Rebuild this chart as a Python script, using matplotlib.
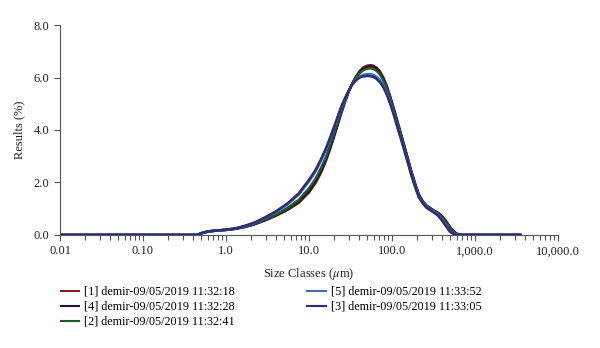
import matplotlib.pyplot as plt
from matplotlib.ticker import LogLocator, FixedLocator, NullFormatter

# size classes (um) and volume density (%)
sizes = [0.01, 0.45, 0.5, 0.6, 0.8, 1.0, 1.3, 1.7, 2.2, 3.0, 4.0, 5.5, 7.5, 10,
         12, 14, 16, 18, 21, 24, 27, 30, 33, 37, 41, 45, 50, 55, 60, 65, 71, 78,
         86, 95, 105, 115, 127, 140, 155, 170, 190, 210, 235, 260, 290, 320, 360,
         400, 450, 500, 550, 600, 700, 3500]

run1 = [0, 0, 0.06, 0.13, 0.17, 0.19, 0.23, 0.30, 0.40, 0.56, 0.73, 0.95, 1.22, 1.62,
        1.98, 2.38, 2.82, 3.28, 3.95, 4.55, 5.05, 5.45, 5.75, 6.05, 6.25, 6.38, 6.45,
        6.47, 6.45, 6.38, 6.25, 6.02, 5.70, 5.28, 4.82, 4.38, 3.90, 3.42, 2.92, 2.45,
        1.95, 1.55, 1.28, 1.12, 1.02, 0.93, 0.84, 0.72, 0.52, 0.30, 0.15, 0.05, 0, 0]
run4 = [0, 0, 0.06, 0.13, 0.17, 0.19, 0.23, 0.31, 0.41, 0.58, 0.75, 0.98, 1.26, 1.67,
        2.03, 2.44, 2.87, 3.33, 3.99, 4.58, 5.07, 5.46, 5.75, 6.03, 6.22, 6.35, 6.41,
        6.43, 6.41, 6.34, 6.21, 5.98, 5.67, 5.25, 4.80, 4.36, 3.88, 3.40, 2.90, 2.44,
        1.94, 1.54, 1.27, 1.11, 1.01, 0.92, 0.83, 0.70, 0.50, 0.28, 0.14, 0.04, 0, 0]
run2 = [0, 0, 0.06, 0.13, 0.17, 0.19, 0.24, 0.32, 0.42, 0.60, 0.78, 1.03, 1.33, 1.78,
        2.14, 2.56, 2.97, 3.43, 4.08, 4.64, 5.10, 5.47, 5.74, 6.00, 6.17, 6.28, 6.34,
        6.35, 6.33, 6.26, 6.13, 5.91, 5.60, 5.19, 4.75, 4.31, 3.84, 3.36, 2.87, 2.41,
        1.92, 1.52, 1.26, 1.10, 1.00, 0.91, 0.81, 0.67, 0.46, 0.25, 0.11, 0.03, 0, 0]
run5 = [0, 0, 0.06, 0.13, 0.17, 0.20, 0.25, 0.34, 0.46, 0.66, 0.88, 1.16, 1.53, 2.04,
        2.42, 2.84, 3.25, 3.67, 4.26, 4.79, 5.18, 5.49, 5.72, 5.92, 6.04, 6.10, 6.13,
        6.13, 6.10, 6.03, 5.91, 5.72, 5.43, 5.05, 4.62, 4.18, 3.73, 3.27, 2.78, 2.32,
        1.85, 1.46, 1.21, 1.05, 0.95, 0.86, 0.75, 0.58, 0.35, 0.14, 0.05, 0.01, 0, 0]
run3 = [0, 0, 0.06, 0.13, 0.17, 0.20, 0.25, 0.35, 0.47, 0.68, 0.90, 1.20, 1.58, 2.10,
        2.48, 2.90, 3.30, 3.72, 4.30, 4.82, 5.20, 5.50, 5.72, 5.90, 6.00, 6.04, 6.06,
        6.05, 6.02, 5.95, 5.83, 5.65, 5.37, 5.00, 4.58, 4.15, 3.70, 3.24, 2.76, 2.30,
        1.83, 1.44, 1.20, 1.04, 0.94, 0.85, 0.73, 0.55, 0.32, 0.12, 0.04, 0, 0, 0]

labels = ["[1] demir-09/05/2019 11:32:18",
          "[4] demir-09/05/2019 11:32:28",
          "[2] demir-09/05/2019 11:32:41",
          "[5] demir-09/05/2019 11:33:52",
          "[3] demir-09/05/2019 11:33:05"]
colors = ["#8b1c1c", "#2a1028", "#1f5a2a", "#3d6fb6", "#2c2c7e"]
series = [run1, run4, run2, run5, run3]

xticks = [0.01, 0.1, 1, 10, 100, 1000, 10000]
xticklabels = ["0.01", "0.10", "1.0", "10.0", "100.0", "1,000.0", "10,000.0"]
yticks = [0, 2, 4, 6, 8]

plt.rcParams["font.family"] = ["Liberation Serif", "DejaVu Serif"]
plt.rcParams["mathtext.fontset"] = "stix"

fig = plt.figure(figsize=(6, 3.48), dpi=100)
ax = fig.add_axes([0.1, 0.325, 0.83, 0.603])

for vals, col, lab in zip(series, colors, labels):
    ax.plot(sizes, vals, color=col, lw=1.8, label=lab, solid_joinstyle="round")

ax.set_xscale("log")
ax.set_xlim(0.01, 10000)
ax.set_ylim(0, 8)
ax.xaxis.set_major_locator(FixedLocator(xticks))
ax.set_xticklabels(xticklabels)
ax.xaxis.set_minor_locator(LogLocator(base=10, subs=range(2, 10), numticks=20))
ax.xaxis.set_minor_formatter(NullFormatter())
ax.set_yticks(yticks)
ax.set_yticklabels([f"{v:.1f}" for v in yticks])

for s in ["top", "right"]:
    ax.spines[s].set_visible(False)
for s in ["left", "bottom"]:
    ax.spines[s].set_color("#555555")
    ax.spines[s].set_linewidth(0.8)
ax.tick_params(which="both", direction="out", colors="#555555", labelcolor="#222222",
               labelsize=9, width=0.8)
ax.tick_params(which="major", length=4)
ax.tick_params(which="minor", length=3.5)

ax.set_xlabel("Size Classes ($\\mu$m)", fontsize=9, color="#222222", labelpad=6)
ax.set_ylabel("Results (%)", fontsize=9, color="#222222", labelpad=6)

leg = fig.legend(loc="upper left", bbox_to_anchor=(0.083, 0.21), ncol=2, frameon=False,
                 fontsize=8.7, handlelength=1.5, handletextpad=0.45, columnspacing=6.0,
                 labelspacing=0.25)
for line in leg.get_lines():
    line.set_linewidth(1.5)

fig.savefig("out.png", dpi=100)
